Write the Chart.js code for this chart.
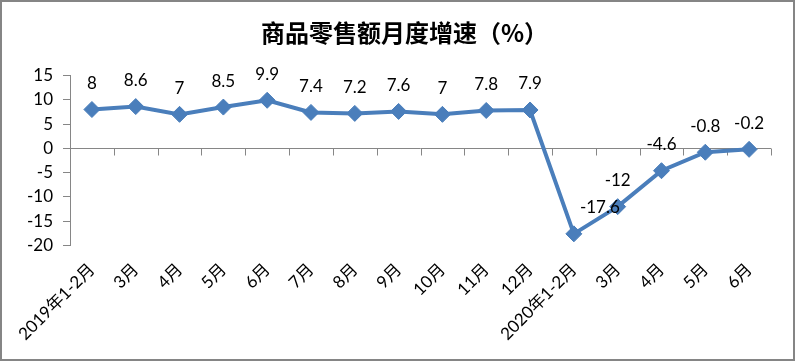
<!DOCTYPE html>
<html>
<head>
<meta charset="utf-8">
<script src="https://cdn.jsdelivr.net/npm/chart.js@4/dist/chart.umd.min.js"></script>
<style>
  html, body { margin: 0; padding: 0; background: #ffffff; }
  #wrap { width: 795px; height: 361px; position: relative; }
</style>
</head>
<body>
<div id="wrap"><canvas id="c" width="795" height="361"></canvas></div>
<script>
const categories = ['2019年1-2月', '3月', '4月', '5月', '6月', '7月', '8月', '9月', '10月', '11月', '12月', '2020年1-2月', '3月', '4月', '5月', '6月'];
const growthValues = [8, 8.6, 7, 8.5, 9.9, 7.4, 7.2, 7.6, 7, 7.8, 7.9, -17.6, -12, -4.6, -0.8, -0.2];
const yTicks = [15, 10, 5, 0, -5, -10, -15, -20];
const chartTitle = '商品零售额月度增速（%）';

const FONT = "Lato, 'Noto Sans CJK SC', sans-serif";
const AXIS_GREY = '#868686';
const LINE_BLUE = '#4a7ebb';

const frame = {
  id: 'frame',
  beforeDraw(chart) {
    const ctx = chart.ctx;
    ctx.save();
    ctx.fillStyle = '#ffffff';
    ctx.fillRect(0, 0, chart.width, chart.height);
    ctx.strokeStyle = '#858585';
    ctx.lineWidth = 2;
    ctx.strokeRect(1, 1, chart.width - 2, chart.height - 2);
    ctx.restore();
  }
};

const titleShift = {
  id: 'titleShift',
  afterLayout(chart) {
    const tb = chart.titleBlock;
    if (tb) { tb.left += 19; tb.right += 19; }
  }
};

const zeroAxis = {
  id: 'zeroAxis',
  beforeDatasetsDraw(chart) {
    const { ctx, scales: { x, y }, chartArea } = chart;
    const y0 = Math.round(y.getPixelForValue(0)) + 0.5;
    ctx.save();
    ctx.strokeStyle = AXIS_GREY;
    ctx.lineWidth = 1;
    ctx.beginPath();
    ctx.moveTo(chartArea.left, y0);
    ctx.lineTo(chartArea.right, y0);
    for (let i = 1; i <= categories.length; i++) {
      const px = Math.round(x.getPixelForValue(i - 0.5)) + 0.5;
      ctx.moveTo(px, y0);
      ctx.lineTo(px, y0 + 7);
    }
    ctx.stroke();
    ctx.restore();
  }
};

const valueLabels = {
  id: 'valueLabels',
  afterDatasetsDraw(chart, args, opts) {
    const ctx = chart.ctx;
    const meta = chart.getDatasetMeta(0);
    const nudge = opts.nudge || {};
    ctx.save();
    ctx.font = '17px ' + FONT;
    ctx.fillStyle = '#000000';
    ctx.textAlign = 'center';
    ctx.textBaseline = 'middle';
    meta.data.forEach((pt, i) => {
      const dx = nudge[i] || 0;
      ctx.fillText(String(growthValues[i]), pt.x + dx, pt.y - 26);
    });
    ctx.restore();
  }
};

new Chart(document.getElementById('c'), {
  type: 'line',
  data: {
    labels: categories,
    datasets: [{
      data: growthValues,
      borderColor: LINE_BLUE,
      backgroundColor: LINE_BLUE,
      borderWidth: 4,
      pointStyle: 'rectRot',
      pointRadius: 8,
      pointHoverRadius: 8,
      pointBackgroundColor: LINE_BLUE,
      pointBorderColor: LINE_BLUE,
      pointBorderWidth: 1,
      tension: 0,
      fill: false
    }]
  },
  options: {
    responsive: false,
    animation: false,
    events: [],
    layout: { padding: { left: 0, right: 24, top: 0, bottom: 0 } },
    plugins: {
      legend: { display: false },
      tooltip: { enabled: false },
      title: {
        display: true,
        text: chartTitle,
        color: '#000000',
        font: { family: "'Noto Sans CJK SC', sans-serif", size: 24, weight: 'bold' },
        padding: { top: 18, bottom: 28.7 }
      },
      valueLabels: { nudge: { 11: 26 } }
    },
    scales: {
      x: {
        type: 'category',
        offset: true,
        grid: { display: false, drawTicks: false },
        border: { display: false },
        ticks: {
          color: '#000000',
          font: { family: FONT, size: 17 },
          minRotation: 45,
          maxRotation: 45,
          autoSkip: false,
          padding: 14
        },
        afterFit(scale) { scale.height = 115.5; }
      },
      y: {
        min: -20,
        max: 15,
        afterBuildTicks(scale) { scale.ticks = yTicks.map(v => ({ value: v })); },
        grid: {
          display: true,
          drawOnChartArea: false,
          drawTicks: true,
          tickLength: 7,
          color: AXIS_GREY
        },
        border: { display: true, color: AXIS_GREY, width: 1 },
        ticks: {
          color: '#000000',
          font: { family: FONT, size: 17 },
          padding: 10
        },
        afterFit(scale) { scale.width = 70; }
      }
    }
  },
  plugins: [frame, titleShift, zeroAxis, valueLabels]
});
</script>
</body>
</html>
